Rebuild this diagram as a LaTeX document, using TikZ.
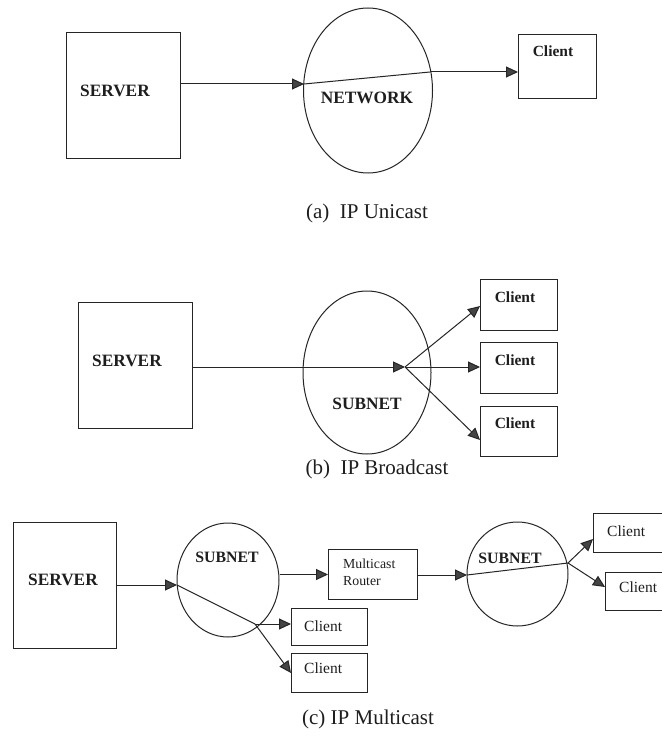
\documentclass[tikz,border=0pt]{standalone}
\usepackage{fontspec}
\setmainfont{Liberation Serif}
\usetikzlibrary{arrows.meta,shapes.geometric}
\definecolor{lc}{HTML}{252525}
\definecolor{ah}{HTML}{444444}
\definecolor{tc}{HTML}{1E1E1E}
\begin{document}
\begin{tikzpicture}[x=1pt,y=-1pt,
  box/.style={draw=lc, line width=1pt, inner sep=0pt, anchor=north west},
  oval/.style={draw=lc, line width=1pt, ellipse, inner sep=0pt},
  big/.style={font=\bfseries\fontsize{17.3}{18}\selectfont, anchor=base, inner sep=0pt, text=tc},
  mid/.style={font=\bfseries\fontsize{15.8}{17}\selectfont, anchor=base, inner sep=0pt, text=tc},
  cl/.style={font=\bfseries\fontsize{15.5}{17}\selectfont, anchor=base, inner sep=0pt, text=tc},
  rc/.style={font=\fontsize{15.5}{17}\selectfont, anchor=base west, inner sep=0pt, text=tc},
  rt/.style={font=\fontsize{13.8}{17}\selectfont, anchor=base west, inner sep=0pt, text=tc},
  captext/.style={font=\fontsize{21}{23}\selectfont, anchor=base, inner sep=0pt, text=tc},
  conn/.style={draw=lc, line width=1pt},
  arr/.style={conn, -{Triangle[length=12pt,width=11pt,fill=ah]}},
]
\useasboundingbox (0,0) rectangle (661,738);
\fill[white] (0,0) rectangle (661,738);

% ---------- (a) IP Unicast ----------
\node[box, minimum width=114pt, minimum height=126pt] (srvA) at (66,32) {};
\node[big] (srvAt) at (115,97) {SERVER};
\node[oval, minimum width=129pt, minimum height=165pt] (netA) at (368,90.5) {};
\node[big] (netAt) at (367,104) {NETWORK};
\node[box, minimum width=78pt, minimum height=64pt] (cliA) at (518,34) {};
\node[cl] (cliAt) at (553,57) {Client};
\coordinate (inA) at (304,84);
\coordinate (outA) at (430,72);
\draw[arr] (srvA.east |- inA) -- (inA);
\draw[conn] (inA) -- (outA);
\draw[arr] (outA) -- (cliA.west |- outA);
\node[captext] (capA) at (367,218) {(a)\ \ IP Unicast};

% ---------- (b) IP Broadcast ----------
\node[box, minimum width=114pt, minimum height=126pt] (srvB) at (78,302) {};
\node[big] (srvBt) at (127,366) {SERVER};
\node[oval, minimum width=128pt, minimum height=163pt] (netB) at (367,372.5) {};
\node[big] (netBt) at (367,409) {SUBNET};
\coordinate (hubB) at (405,367);
\draw[arr] (srvB.east |- hubB) -- (hubB);
\node[box, minimum width=77pt, minimum height=51pt] (cliB1) at (480,279) {};
\node[box, minimum width=77pt, minimum height=51pt] (cliB2) at (480,342) {};
\node[box, minimum width=77pt, minimum height=50pt] (cliB3) at (480,406) {};
\node[cl] (cliB1t) at (515,302) {Client};
\node[cl] (cliB2t) at (515,365) {Client};
\node[cl] (cliB3t) at (515,428) {Client};
\coordinate (tB1) at (480,306);
\coordinate (tB3) at (480,440);
\draw[arr] (hubB) -- (tB1);
\draw[arr] (hubB) -- (cliB2.west |- hubB);
\draw[arr] (hubB) -- (tB3);
\node[captext] (capB) at (377,474) {(b)\ \ IP Broadcast};

% ---------- (c) IP Multicast ----------
\node[box, minimum width=103pt, minimum height=126pt] (srvC) at (13,522) {};
\node[big] (srvCt) at (63,585) {SERVER};
\node[oval, minimum width=102pt, minimum height=114pt] (sub1) at (228,580) {};
\node[mid] (sub1t) at (227,562) {SUBNET};
\coordinate (inC) at (177,585);
\draw[arr] (srvC.east |- inC) -- (inC);
\node[box, minimum width=89pt, minimum height=50pt] (router) at (328,549) {};
\node[rt] (rtA) at (343,568) {Multicast};
\node[rt] (rtB) at (343,585) {Router};
\draw[arr] (sub1.east |- router.west) -- (router.west);
\coordinate (hub1) at (255,624);
\draw[conn] (inC) -- (hub1);
\node[box, minimum width=76pt, minimum height=37pt] (cliC1) at (291,608) {};
\node[box, minimum width=76pt, minimum height=39pt] (cliC2) at (291,653) {};
\node[rc] (cliC1t) at (304,631) {Client};
\node[rc] (cliC2t) at (304,673) {Client};
\draw[arr] (hub1) -- (cliC1.west |- hub1);
\draw[arr] (hub1) -- (cliC2.west);
\node[oval, minimum width=101pt, minimum height=104pt] (sub2) at (517.5,574) {};
\node[mid] (sub2t) at (510,563) {SUBNET};
\coordinate (in2) at (467,575);
\coordinate (hub2) at (568,563);
\draw[arr] (router.east |- in2) -- (in2);
\draw[conn] (in2) -- (hub2);
\node[box, minimum width=80pt, minimum height=39pt] (cliCA) at (593,513) {};
\node[box, minimum width=70pt, minimum height=38pt] (cliCB) at (605,572) {};
\node[rc] (cliCAt) at (607,536) {Client};
\node[rc] (cliCBt) at (619,592) {Client};
\coordinate (tCA) at (593,539);
\coordinate (tCB) at (605,587);
\draw[arr] (hub2) -- (tCA);
\draw[arr] (hub2) -- (tCB);
\node[captext] (capC) at (368,724) {(c) IP Multicast};
\end{tikzpicture}
\end{document}
